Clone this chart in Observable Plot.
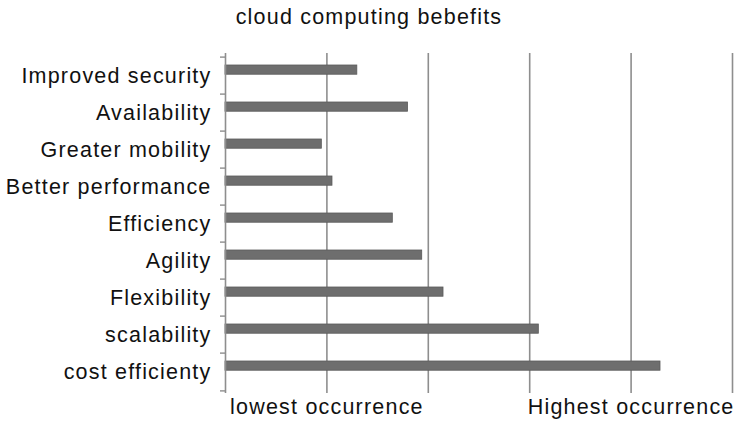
<!DOCTYPE html>
<html>
<head>
<meta charset="utf-8">
<script src="https://cdn.jsdelivr.net/npm/d3@7"></script>
<script src="https://cdn.jsdelivr.net/npm/@observablehq/plot@0.6"></script>
<style>
  html, body { margin: 0; padding: 0; background: #fff; }
  #chart { width: 734px; height: 422px; overflow: hidden; }
  .title { height: 34px; line-height: 34px; font-family: "Liberation Sans", Arial, sans-serif; font-size: 21.5px; letter-spacing: 1.2px; color: #111; text-align: center; padding-left: 4px; }
  svg text { letter-spacing: 1.2px; }
</style>
</head>
<body>
<div id="chart"></div>
<script>
const titleText = "cloud computing bebefits";
const categories = ["Improved security", "Availability", "Greater mobility", "Better performance", "Efficiency", "Agility", "Flexibility", "scalability", "cost efficienty"];
const values = [1.30, 1.80, 0.95, 1.055, 1.65, 1.94, 2.15, 3.09, 4.29];
const gridValues = [1, 2, 3, 4, 5];
const xTickValues = [1, 4];
const xTickLabels = ["lowest occurrence", "Highest occurrence"];

const data = categories.map((c, i) => ({category: c, value: values[i]}));

const H = 388, mTop = 19, mBottom = 29;
const band = (H - mTop - mBottom) / categories.length;

const title = document.createElement("div");
title.className = "title";
title.textContent = titleText;

const chart = Plot.plot({
  width: 734,
  height: H,
  marginTop: mTop,
  marginBottom: mBottom,
  marginLeft: 225,
  marginRight: 2,
  style: {fontFamily: "'Liberation Sans', Arial, sans-serif", fontSize: "21.5px", color: "#111", background: "#fff"},
  x: {domain: [0, 5], axis: null},
  y: {domain: categories, padding: 0, axis: null},
  marks: [
    Plot.ruleX(gridValues, {stroke: "#8e8e8e", strokeWidth: 1.6}),
    Plot.barX(data, {x: "value", y: "category", fill: "#6e6e6e", stroke: "#5a5a5a", strokeWidth: 0.8, insetTop: 8, insetBottom: band - 18}),
    Plot.ruleX([0], {stroke: "#8e8e8e", strokeWidth: 1.6}),
    Plot.axisY({anchor: "left", label: null, tickSize: 0, tickPadding: 14, fill: "#111"}),
    Plot.axisY({anchor: "left", label: null, tickSize: 5, text: null, stroke: "#8e8e8e", strokeWidth: 1.4, dy: -band / 2}),
    Plot.axisY({anchor: "left", label: null, ticks: [categories[categories.length - 1]], tickSize: 5, text: null, stroke: "#8e8e8e", strokeWidth: 1.4, dy: band / 2}),
    Plot.axisX({anchor: "bottom", label: null, ticks: xTickValues, tickSize: 0, tickPadding: 5, fill: "#111",
      tickFormat: d => xTickLabels[xTickValues.indexOf(d)]})
  ]
});

const root = document.getElementById("chart");
root.appendChild(title);
root.appendChild(chart);
</script>
</body>
</html>
